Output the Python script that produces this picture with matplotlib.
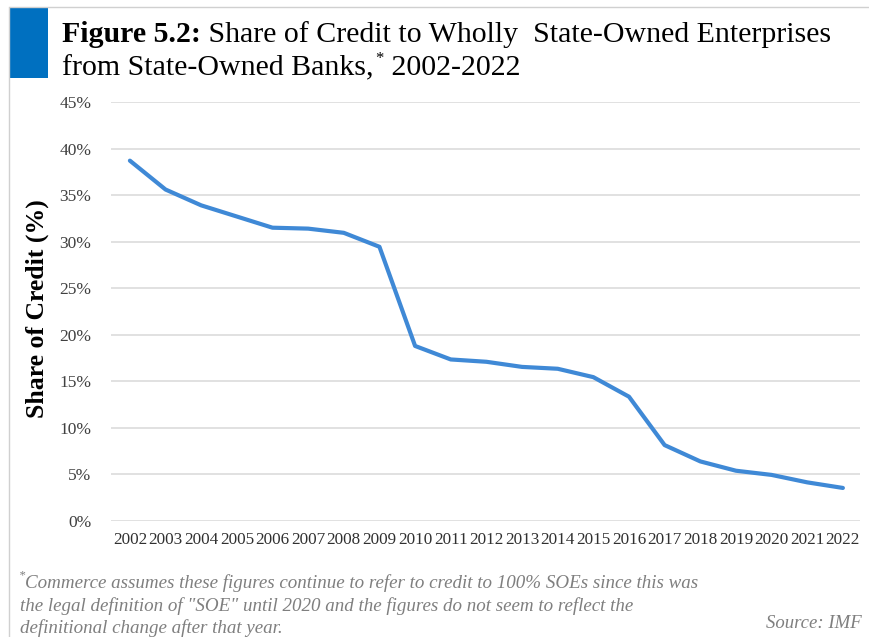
import matplotlib
matplotlib.use("Agg")
import matplotlib.pyplot as plt
from matplotlib.patches import Rectangle
from matplotlib.lines import Line2D

years = [str(y) for y in range(2002, 2023)]
share = [38.7, 35.6, 33.9, 32.7, 31.5, 31.4, 30.95, 29.45, 18.8, 17.35, 17.1,
         16.55, 16.35, 15.45, 13.35, 8.15, 6.4, 5.4, 4.95, 4.15, 3.55]
y_ticks = [0, 5, 10, 15, 20, 25, 30, 35, 40, 45]

title_bold = "Figure 5.2:"
title_line1 = " Share of Credit to Wholly  State-Owned Enterprises"
title_line2 = "from State-Owned Banks,"
title_line2_tail = " 2002-2022"
ylabel = "Share of Credit (%)"
footnote = ["Commerce assumes these figures continue to refer to credit to 100% SOEs since this was",
            "the legal definition of \"SOE\" until 2020 and the figures do not seem to reflect the",
            "definitional change after that year."]
source = "Source: IMF"

SERIF = ["Liberation Serif", "DejaVu Serif"]
W, H = 870, 637
fig = plt.figure(figsize=(W / 100, H / 100), dpi=100)
fig.patch.set_facecolor("white")

# frame lines and blue marker box
fig.add_artist(Line2D([10 / W, 1], [1 - 7 / H, 1 - 7 / H], color="#d0d0d0", lw=1.0))
fig.add_artist(Line2D([9 / W, 9 / W], [0, 1 - 7 / H], color="#d0d0d0", lw=1.0))
fig.add_artist(Rectangle((10 / W, 1 - 78 / H), 38 / W, 70 / H, color="#0070C0", lw=0))

ax = fig.add_axes([111 / W, 1 - 521 / H, (860 - 111) / W, (521 - 102) / H])
x = list(range(len(years)))
ax.plot(x, share, color="#3f89d6", lw=3.0, solid_capstyle="round", solid_joinstyle="round", zorder=3)
ax.set_xlim(-0.53, len(years) - 0.52)
ax.set_ylim(0, 45)
ax.set_yticks(y_ticks)
ax.set_yticklabels([f"{v}%" for v in y_ticks], fontfamily=SERIF, fontsize=12.5, color="#404040")
ax.set_xticks(x)
ax.set_xticklabels(years, fontfamily=SERIF, fontsize=12.3, color="#303030")
ax.tick_params(axis="both", length=0)
ax.tick_params(axis="y", pad=14)
ax.tick_params(axis="x", pad=8)
ax.grid(axis="y", color="#dcdcdc", lw=1.2)
ax.set_axisbelow(True)
for s in ax.spines.values():
    s.set_visible(False)

fig.text(37 / W, 1 - 309 / H, ylabel, rotation=90, ha="center", va="center",
         fontfamily=SERIF, fontsize=18.5, fontweight="bold", color="black")

# title: bold lead-in followed by regular text
fig.canvas.draw()
r = fig.canvas.get_renderer()
TY1, TY2 = 42, 75
t1 = fig.text(62 / W, 1 - TY1 / H, title_bold, fontfamily=SERIF, fontsize=21.5,
              fontweight="bold", va="baseline", ha="left")
bb = t1.get_window_extent(renderer=r)
fig.text(bb.x1 / W, 1 - TY1 / H, title_line1, fontfamily=SERIF, fontsize=21.5,
         va="baseline", ha="left")
t2 = fig.text(62 / W, 1 - TY2 / H, title_line2, fontfamily=SERIF, fontsize=21.5,
              va="baseline", ha="left")
bb2 = t2.get_window_extent(renderer=r)
ts = fig.text(bb2.x1 / W + 2 / W, 1 - (TY2 - 12) / H, "*", fontfamily=SERIF, fontsize=12,
              va="baseline", ha="left")
bbs = ts.get_window_extent(renderer=r)
fig.text(bbs.x1 / W, 1 - TY2 / H, title_line2_tail, fontfamily=SERIF, fontsize=21.5,
         va="baseline", ha="left")

# footnote
fig.text(19 / W, 1 - 578 / H, "*", fontfamily=SERIF, fontsize=9, style="italic",
         color="#7f7f7f", va="baseline", ha="left")
foot_y = [588, 611, 633]
for i, line in enumerate(footnote):
    xs = 25 if i == 0 else 20
    fig.text(xs / W, 1 - foot_y[i] / H, line, fontfamily=SERIF, fontsize=13.7,
             style="italic", color="#7f7f7f", va="baseline", ha="left")
fig.text(862 / W, 1 - 628 / H, source, fontfamily=SERIF, fontsize=13.5, style="italic",
         color="#7f7f7f", va="baseline", ha="right")

fig.savefig("out.png", dpi=100, facecolor="white")
